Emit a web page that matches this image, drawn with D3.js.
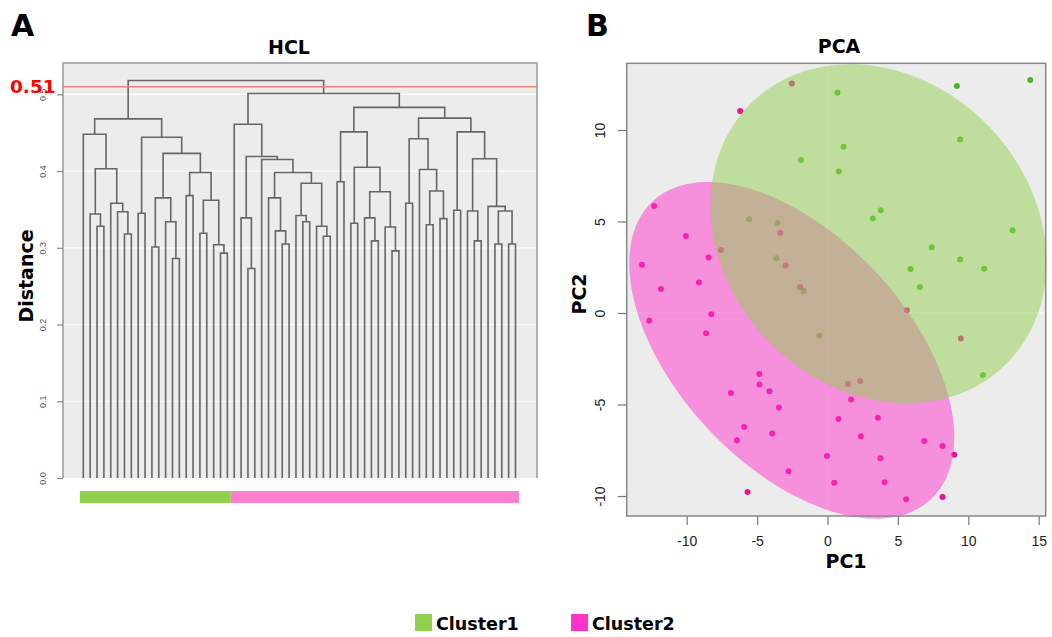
<!DOCTYPE html>
<html><head><meta charset="utf-8">
<script src="https://cdn.jsdelivr.net/npm/d3@7"></script>
<style>body{margin:0;background:#fff} svg{display:block}</style>
</head><body>
<svg id="c" width="1052" height="637"></svg>
<script>
// ---------------- DATA ----------------
// Dendrogram (HCL): leaves in plotted order 0..63; node = [height, left, right]
const leafCount = 64;
const cluster1Range = [0, 21];
const cluster2Range = [22, 63];
const cutHeight = 0.51;
const dendroTicks = [0, 0.1, 0.2, 0.3, 0.4, 0.5];
const rootHeight = 0.518;
const treeCluster1 = [0.468,
  [0.448, 0, [0.403, [0.344, 1, [0.328, 2, 3]], [0.358, 4, [0.347, 5, [0.318, 6, 7]]]]],
  [0.444, [0.345, 8, 9],
    [0.423,
      [0.365, [0.301, 10, 11], [0.334, 12, [0.286, 13, 14]]],
      [0.398, [0.368, 15, 16], [0.362, [0.319, 17, 18], [0.304, 19, [0.293, 20, 21]]]]]]];
const treeCluster2 = [0.501,
  [0.461, 22,
    [0.419, [0.339, 23, [0.273, 24, 25]],
      [0.415, 26,
        [0.398, [0.365, 27, [0.322, 28, [0.305, 29, 30]]],
          [0.384, [0.342, 31, [0.334, 32, 33]], [0.328, 34, [0.315, 35, 36]]]]]]],
  [0.483,
    [0.451, [0.386, 37, 38],
      [0.405, [0.332, 39, 40],
        [0.373, [0.339, 41, [0.309, 42, 43]], [0.327, 44, [0.296, 45, 46]]]]],
    [0.469,
      [0.442, [0.358, 47, 48], [0.402, 49, [0.374, [0.330, 50, 51], [0.338, 52, 53]]]],
      [0.451, [0.349, 54, 55],
        [0.416, [0.348, 56, [0.309, 57, 58]],
          [0.354, 59, [0.348, [0.305, 60, 61], [0.305, 62, 63]]]]]]]];

// PCA
const pcaTicksX = [-10, -5, 0, 5, 10, 15];
const pcaTicksY = [-10, -5, 0, 5, 10];
const cluster1PC1 = [-1.89, -5.56, -3.55, -3.64, -1.70, 9.19, 14.40, 0.71, 9.42, 1.14, 0.81, 3.79, 3.22, 13.14, 7.41, 9.42, 11.13, 5.90, 6.56, -0.57, 11.04];
const cluster1PC2 = [8.36, 5.12, 4.92, 2.99, 1.20, 12.40, 12.73, 12.04, 9.48, 9.09, 7.73, 5.61, 5.16, 4.52, 3.59, 2.93, 2.42, 2.41, 1.42, -1.24, -3.39];
const cluster2PC1 = [-2.53, -6.2, -12.31, -3.36, -10.06, -7.57, -8.45, -2.98, -13.18, -9.13, -11.83, -1.94, -12.66, -8.26, -8.62, -4.85, -4.83, -4.12, -6.86, -3.45, -5.92, -3.93, -6.43, -2.77, -5.68, 5.64, 9.47, 1.45, 2.32, 1.68, 0.78, 3.58, 2.37, 6.87, 8.17, 9.0, -0.04, 3.76, 0.48, 4.05, 5.59, 8.17];
const cluster2PC2 = [12.54, 11.04, 5.85, 4.39, 4.21, 3.44, 3.03, 2.59, 2.64, 1.66, 1.31, 1.42, -0.42, -0.07, -1.11, -3.33, -3.91, -4.28, -4.37, -5.17, -6.23, -6.59, -6.96, -8.65, -9.78, 0.15, -1.40, -3.88, -3.72, -4.73, -5.79, -5.72, -6.74, -6.99, -7.27, -7.74, -7.81, -7.94, -9.27, -9.25, -10.18, -10.05];
// ellipses: center [PC1, PC2], covariance [sxx, sxy, syy]
const ellipse1Center = [3.62, 4.33];
const ellipse1Cov = [142.4, -18.5, 85.8];
const ellipse2Center = [-2.54, -2.04];
const ellipse2Cov = [133.2, -54.9, 84.6];
const legendLabels = ["Cluster1", "Cluster2"];

// ---------------- STYLE ----------------
const green = "#92D050", pink = "#FF33CC", barPink = "#FF80CC";
const greenPt = "#4CB828", pinkPt = "#EB148C";
const bg = "#ECECEC";
const boldFont = "DejaVu Sans";
const tickFont = "Liberation Sans";

const svg = d3.select("#c");

// ---------------- PANEL A ----------------
const A = {x0: 63, x1: 537, y0: 63, y1: 478};
const ax = d3.scaleLinear().domain([0, leafCount - 1]).range([83.3, 515.5]);
const ay = d3.scaleLinear().domain([0, 0.5]).range([478, 94.3]);
const gA = svg.append("g");
gA.append("rect").attr("x", A.x0).attr("y", A.y0).attr("width", A.x1 - A.x0).attr("height", A.y1 - A.y0).attr("fill", bg);
gA.selectAll("line.grid").data(dendroTicks.filter(d => d > 0)).join("line")
  .attr("x1", A.x0).attr("x2", A.x1).attr("y1", d => ay(d)).attr("y2", d => ay(d))
  .attr("stroke", "#fff").attr("stroke-width", 1.2).attr("opacity", 0.9);

const treeG = gA.append("g").attr("fill", "none").attr("stroke", "#666").attr("stroke-width", 1.6);
function drawNode(node) {
  if (typeof node === "number") return {x: ax(node), h: 0};
  const [h, l, r] = node;
  const L = drawNode(l), R = drawNode(r);
  treeG.append("path").attr("d", `M${L.x},${ay(L.h)}V${ay(h)}H${R.x}V${ay(R.h)}`);
  return {x: (L.x + R.x) / 2, h};
}
drawNode([rootHeight, treeCluster1, treeCluster2]);

// cut line
gA.append("line").attr("x1", A.x0).attr("x2", A.x1).attr("y1", ay(cutHeight)).attr("y2", ay(cutHeight))
  .attr("stroke", "#EE8080").attr("stroke-width", 1.5);
// frame
gA.append("path").attr("d", `M${A.x0},${A.y1}V${A.y0}H${A.x1}V${A.y1}`)
  .attr("fill", "none").attr("stroke", "#999").attr("stroke-width", 1.5);
// y axis
const yAxisA = gA.append("g").attr("transform", `translate(${A.x0},0)`)
  .call(d3.axisLeft(ay).tickValues(dendroTicks).tickSize(6).tickFormat(d3.format(".1f")));
yAxisA.select(".domain").remove();
yAxisA.selectAll(".tick line").attr("stroke", "#888").attr("stroke-width", 1.2);
yAxisA.selectAll(".tick text").attr("transform", "rotate(-90)").attr("x", 0).attr("y", -17).attr("dy", 0)
  .attr("text-anchor", "middle").attr("font-family", tickFont).attr("font-size", 9).attr("fill", "#555");
// color bar
const half = (ax(1) - ax(0)) / 2;
gA.append("rect").attr("x", ax(cluster1Range[0]) - half).attr("y", 491)
  .attr("width", ax(cluster1Range[1]) - ax(cluster1Range[0]) + 2 * half).attr("height", 12).attr("fill", green);
gA.append("rect").attr("x", ax(cluster2Range[0]) - half).attr("y", 491)
  .attr("width", ax(cluster2Range[1]) - ax(cluster2Range[0]) + 2 * half).attr("height", 12).attr("fill", barPink);
// texts
gA.append("text").attr("x", 10).attr("y", 93).text(cutHeight.toFixed(2))
  .attr("font-family", boldFont).attr("font-weight", "bold").attr("font-size", 18.5).attr("fill", "#FF0000");
gA.append("text").attr("x", 289).attr("y", 53.5).attr("text-anchor", "middle").text("HCL")
  .attr("font-family", boldFont).attr("font-weight", "bold").attr("font-size", 19);
gA.append("text").attr("transform", "translate(33,276) rotate(-90)").attr("text-anchor", "middle").text("Distance")
  .attr("font-family", boldFont).attr("font-weight", "bold").attr("font-size", 19);
gA.append("text").attr("x", 11).attr("y", 36).text("A")
  .attr("font-family", boldFont).attr("font-weight", "bold").attr("font-size", 30);

// ---------------- PANEL B ----------------
const B = {x0: 626.7, x1: 1045.7, y0: 63.3, y1: 516};
const bx = d3.scaleLinear().domain([-10, 15]).range([686.7, 1038.7]);
const by = d3.scaleLinear().domain([-10, 10]).range([496, 130]);
const gB = svg.append("g");
gB.append("rect").attr("x", B.x0).attr("y", B.y0).attr("width", B.x1 - B.x0).attr("height", B.y1 - B.y0).attr("fill", bg);
gB.append("line").attr("x1", bx(0)).attr("x2", bx(0)).attr("y1", B.y0).attr("y2", B.y1).attr("stroke", "#fff").attr("stroke-width", 1.2).attr("opacity", 0.7);
gB.append("line").attr("x1", B.x0).attr("x2", B.x1).attr("y1", by(0)).attr("y2", by(0)).attr("stroke", "#fff").attr("stroke-width", 1.2).attr("opacity", 0.7);

const pts1 = cluster1PC1.map((x, i) => [x, cluster1PC2[i]]);
const pts2 = cluster2PC1.map((x, i) => [x, cluster2PC2[i]]);
gB.selectAll("circle.c1").data(pts1).join("circle").attr("class", "c1")
  .attr("cx", d => bx(d[0])).attr("cy", d => by(d[1])).attr("r", 3).attr("fill", greenPt);
gB.selectAll("circle.c2").data(pts2).join("circle").attr("class", "c2")
  .attr("cx", d => bx(d[0])).attr("cy", d => by(d[1])).attr("r", 3).attr("fill", pinkPt);

function ellipsePoints(c, cov) {
  const [a, b, cc] = cov;
  const l11 = Math.sqrt(a), l21 = b / l11, l22 = Math.sqrt(cc - l21 * l21);
  return d3.range(0, 361, 2).map(deg => {
    const t = deg * Math.PI / 180, u = Math.cos(t), v = Math.sin(t);
    return [c[0] + l11 * u, c[1] + l21 * u + l22 * v];
  });
}
const line = d3.line().x(d => bx(d[0])).y(d => by(d[1])).curve(d3.curveLinearClosed);
gB.append("path").attr("d", line(ellipsePoints(ellipse2Center, ellipse2Cov))).attr("fill", pink).attr("fill-opacity", 0.5);
gB.append("path").attr("d", line(ellipsePoints(ellipse1Center, ellipse1Cov))).attr("fill", green).attr("fill-opacity", 0.5);

gB.append("rect").attr("x", B.x0).attr("y", B.y0).attr("width", B.x1 - B.x0).attr("height", B.y1 - B.y0)
  .attr("fill", "none").attr("stroke", "#888").attr("stroke-width", 1.5);

const xAxisB = gB.append("g").attr("transform", `translate(0,${B.y1})`)
  .call(d3.axisBottom(bx).tickValues(pcaTicksX).tickSize(9).tickFormat(d => String(d)));
xAxisB.select(".domain").remove();
xAxisB.selectAll(".tick line").attr("stroke", "#777").attr("stroke-width", 1.2);
xAxisB.selectAll(".tick text").attr("y", 30).attr("dy", 0).attr("font-family", tickFont).attr("font-size", 14).attr("fill", "#222");
const yAxisB = gB.append("g").attr("transform", `translate(${B.x0},0)`)
  .call(d3.axisLeft(by).tickValues(pcaTicksY).tickSize(9).tickFormat(d => String(d)));
yAxisB.select(".domain").remove();
yAxisB.selectAll(".tick line").attr("stroke", "#777").attr("stroke-width", 1.2);
yAxisB.selectAll(".tick text").attr("transform", "rotate(-90)").attr("x", 0).attr("y", -21.5).attr("dy", 0)
  .attr("text-anchor", "middle").attr("font-family", tickFont).attr("font-size", 14).attr("fill", "#222");

gB.append("text").attr("x", 839).attr("y", 53).attr("text-anchor", "middle").text("PCA")
  .attr("font-family", boldFont).attr("font-weight", "bold").attr("font-size", 19);
gB.append("text").attr("x", 846).attr("y", 568).attr("text-anchor", "middle").text("PC1")
  .attr("font-family", boldFont).attr("font-weight", "bold").attr("font-size", 19);
gB.append("text").attr("transform", "translate(586,294) rotate(-90)").attr("text-anchor", "middle").text("PC2")
  .attr("font-family", boldFont).attr("font-weight", "bold").attr("font-size", 19);
gB.append("text").attr("x", 586).attr("y", 36).text("B")
  .attr("font-family", boldFont).attr("font-weight", "bold").attr("font-size", 30);

// ---------------- LEGEND ----------------
const legendColors = [green, pink];
const legendX = [415, 571];
const lg = svg.append("g");
legendLabels.forEach((lab, i) => {
  lg.append("rect").attr("x", legendX[i]).attr("y", 614).attr("width", 17).attr("height", 17).attr("fill", legendColors[i]);
  lg.append("text").attr("x", legendX[i] + 21).attr("y", 630).text(lab)
    .attr("font-family", boldFont).attr("font-weight", "bold").attr("font-size", 17.5);
});
</script>
</body></html>
